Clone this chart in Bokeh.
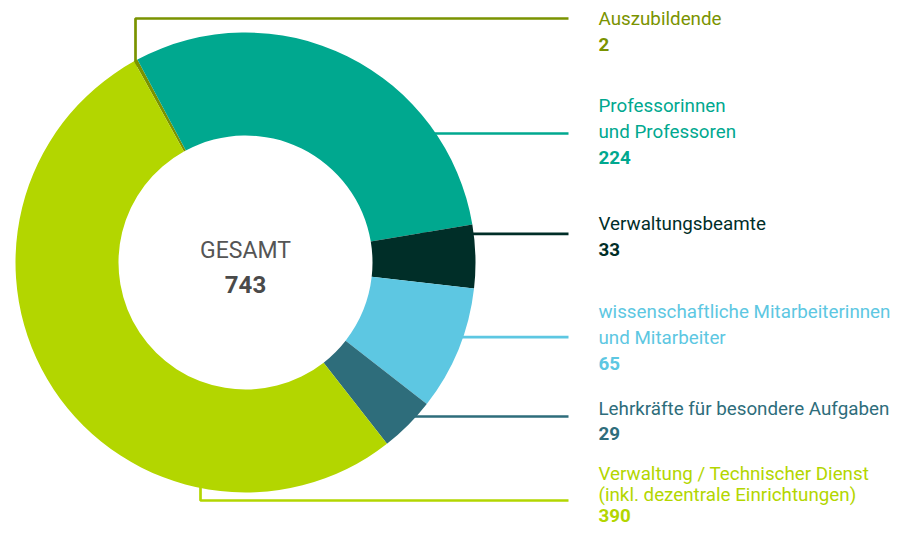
import math
from bokeh.plotting import figure
from bokeh.models import Range1d, ColumnDataSource
from bokeh.core.properties import value
from bokeh.embed import file_html
from bokeh.resources import INLINE

# ---- data ----
categories = [
    "Auszubildende",
    "Professorinnen und Professoren",
    "Verwaltungsbeamte",
    "wissenschaftliche Mitarbeiterinnen und Mitarbeiter",
    "Lehrkräfte für besondere Aufgaben",
    "Verwaltung / Technischer Dienst (inkl. dezentrale Einrichtungen)",
]
label_lines = [
    ["Auszubildende"],
    ["Professorinnen", "und Professoren"],
    ["Verwaltungsbeamte"],
    ["wissenschaftliche Mitarbeiterinnen", "und Mitarbeiter"],
    ["Lehrkräfte für besondere Aufgaben"],
    ["Verwaltung / Technischer Dienst", "(inkl. dezentrale Einrichtungen)"],
]
values = [2, 224, 33, 65, 29, 390]
colors = ["#7a9300", "#00a88f", "#002e28", "#5dc7e2", "#2e6d7b", "#b3d600"]
center_title = "GESAMT"

# ---- layout (pixel coordinates, y measured from top) ----
FW, FH = 894, 529
H = 545
def Y(py):
    return H - py

TFIX = 7.5  # text baseline correction
def YT(py):
    return H - (py - TFIX)

CX, CY = 245, 262
R_IN, R_OUT = 127, 230
START_DEG = -29.0  # clockwise from 12 o'clock

total = sum(values)
starts, ends = [], []
acc = 0
for v in values:
    a0 = START_DEG + 360.0 * acc / total
    acc += v
    a1 = START_DEG + 360.0 * acc / total
    starts.append(math.radians(90 - a0))
    ends.append(math.radians(90 - a1))

p = figure(width=FW, height=FH, output_backend="svg", toolbar_location=None,
           x_range=Range1d(0, FW), y_range=Range1d(H - FH, H), min_border=0,
           outline_line_color=None)
p.axis.visible = False
p.grid.visible = False
p.background_fill_color = "white"
p.border_fill_color = "white"

# leader lines (drawn under the ring)
LINE_END = 568
leaders = [
    ([135, 135, LINE_END], [90, 18, 18]),
    ([300, LINE_END], [133, 133]),
    ([420, LINE_END], [233.3, 233.3]),
    ([400, LINE_END], [336.7, 336.7]),
    ([380, LINE_END], [416, 416]),
    ([200, 200, LINE_END], [450, 500, 500]),
]
for (xs, ys), c in zip(leaders, colors):
    p.line(xs, [Y(v) for v in ys], line_color=c, line_width=2.7)

src = ColumnDataSource(dict(cat=categories, val=values, color=colors,
                            start=starts, end=ends))
p.annular_wedge(x=CX, y=Y(CY), inner_radius=R_IN, outer_radius=R_OUT,
                start_angle="start", end_angle="end", direction="clock",
                fill_color="color", line_color=None, source=src)

# labels
FONT = value("Roboto")
FS = "18.8px"
TX = 598
first_baselines = [26, 113, 230.7, 319, 416, 481]
spacings = [25.7, 25.7, 25.7, 25.5, 24.5, 20.5]
nx, ny, nt, nc = [], [], [], []
vx, vy, vt, vc = [], [], [], []
for lines, v, c, b, ls in zip(label_lines, values, colors, first_baselines, spacings):
    for i, ln in enumerate(lines):
        nx.append(TX); ny.append(YT(b + i * ls)); nt.append(ln); nc.append(c)
    vx.append(TX); vy.append(YT(b + len(lines) * ls)); vt.append(str(v)); vc.append(c)

p.text(x=nx, y=ny, text=nt, text_color=nc, text_font=FONT, text_font_size=FS,
       text_baseline="alphabetic", text_align="left")
p.text(x=vx, y=vy, text=vt, text_color=vc, text_font=FONT, text_font_size=FS,
       text_font_style="bold", text_baseline="alphabetic", text_align="left")

# center
p.text(x=[CX], y=[YT(257.3)], text=[center_title], text_color="#555555", text_font=FONT,
       text_font_size="23px", text_baseline="alphabetic", text_align="center")
p.text(x=[CX], y=[YT(291)], text=[str(total)], text_color="#4a4a4a", text_font=FONT,
       text_font_size="24px", text_font_style="bold", text_baseline="alphabetic",
       text_align="center")

open("out.html", "w").write(file_html(p, INLINE))
